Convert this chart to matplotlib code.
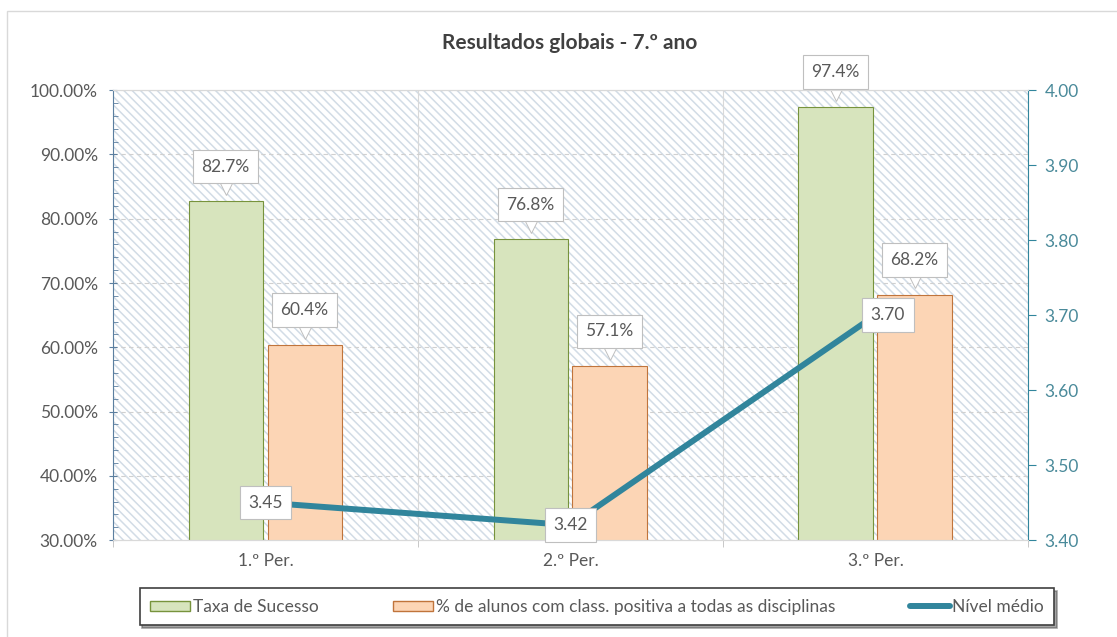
import matplotlib
matplotlib.use("Agg")
import matplotlib.pyplot as plt
from matplotlib.patches import Rectangle, Patch
from matplotlib.lines import Line2D
from matplotlib.ticker import FuncFormatter, MultipleLocator, FixedLocator

plt.rcParams['font.family'] = ['Lato', 'DejaVu Sans']
plt.rcParams['hatch.linewidth'] = 1.1

periodos = ["1.º Per.", "2.º Per.", "3.º Per."]
taxa_sucesso = [82.7, 76.8, 97.4]
class_positiva = [60.4, 57.1, 68.2]
nivel_medio = [3.45, 3.42, 3.70]

cinza = "#595959"
teal = "#31859C"
fs = 12.5

fig = plt.figure(figsize=(11.17, 6.37), dpi=100)
fig.patches.append(Rectangle((0.006, -0.01), 1.0, 0.993, transform=fig.transFigure,
                             fill=False, edgecolor="#D9D9D9", linewidth=1))

ax = fig.add_axes([0.1012, 0.152, 0.8191, 0.7065])
ax2 = ax.twinx()

# fundo tracejado
ax.patch.set_facecolor("white")
ax.add_patch(Rectangle((0, 0), 1, 1, transform=ax.transAxes, facecolor="none",
                       edgecolor="#D2DCE6", hatch="\\\\\\\\", linewidth=0, zorder=0))

x = range(len(periodos))
w = 0.243
dx_g, dx_o = -0.131, 0.128
ax.bar([i + dx_g for i in x], taxa_sucesso, w, color="#D7E4BD", edgecolor="#77933C",
       linewidth=0.8, zorder=2)
ax.bar([i + dx_o for i in x], class_positiva, w, color="#FCD5B5", edgecolor="#C0743B",
       linewidth=0.8, zorder=2)

ax.set_xlim(-0.5, 2.5)
ax.set_ylim(30, 100)
ax.yaxis.set_major_locator(MultipleLocator(10))
ax.yaxis.set_minor_locator(MultipleLocator(2))
ax.yaxis.set_major_formatter(FuncFormatter(lambda v, p: f"{v:.2f}%"))
ax.set_xticks(list(x))
ax.set_xticklabels(periodos)
ax.xaxis.set_minor_locator(FixedLocator([-0.5, 0.5, 1.5, 2.5]))
ax.tick_params(axis="x", which="major", length=0, pad=9, labelsize=fs, labelcolor=cinza)
ax.tick_params(axis="x", which="minor", length=5, color="#BFBFBF")
ax.tick_params(axis="y", which="major", length=6, direction="inout", color="#5B7FA0",
               labelsize=fs, labelcolor=cinza, pad=8)
ax.tick_params(axis="y", which="minor", length=3.5, direction="in", color="#5B7FA0")

ax.grid(axis="y", which="major", linestyle=(0, (4, 3)), color="#D0D0D0", linewidth=0.8, zorder=1)
ax.grid(axis="x", which="minor", linestyle="-", color="#D9D9D9", linewidth=0.8, zorder=1)
ax.set_axisbelow(True)

for s in ["top", "bottom"]:
    ax.spines[s].set_color("#D9D9D9")
    ax2.spines[s].set_color("#D9D9D9")
ax.spines["left"].set_color("#5B7FA0")
ax2.spines["left"].set_visible(False)
ax.spines["right"].set_visible(False)
ax2.spines["right"].set_color(teal)

ax2.plot(list(x), nivel_medio, color=teal, linewidth=4.3, solid_capstyle="butt", zorder=3)
ax2.set_ylim(3.40, 4.00)
ax2.yaxis.set_major_locator(MultipleLocator(0.1))
ax2.yaxis.set_major_formatter(FuncFormatter(lambda v, p: f"{v:.2f}"))
ax2.tick_params(axis="y", length=6, color=teal, labelsize=fs, labelcolor="#4A8A9A", pad=6)

caixa = dict(boxstyle="square,pad=0.5", facecolor="white", edgecolor="#BFBFBF", linewidth=0.8)
seta = matplotlib.transforms.ScaledTranslation(0, 9.5 / 72, fig.dpi_scale_trans)


def rotulo_barra(xp, v):
    ax.annotate(f"{v:.1f}%", (xp, v), xytext=(0, 25), textcoords="offset points",
                ha="center", va="center", fontsize=fs, color=cinza, bbox=caixa, zorder=6)
    ax.plot([xp], [v], marker="v", markersize=10, markerfacecolor="white",
            markeredgecolor="#BFBFBF", markeredgewidth=0.7, linestyle="none", zorder=5,
            transform=ax.transData + seta)


for i in x:
    rotulo_barra(i + dx_g, taxa_sucesso[i])
    rotulo_barra(i + dx_o, class_positiva[i])

for i in x:
    desloc = (9, 0) if i == 2 else (0, 0)
    ax2.annotate(f"{nivel_medio[i]:.2f}", (i, nivel_medio[i]), xytext=desloc,
                 textcoords="offset points", ha="center", va="center",
                 fontsize=fs, color=cinza, bbox=caixa, zorder=5)

fig.text(0.51, 0.932, "Resultados globais - 7.º ano", ha="center", va="center",
         fontsize=15, fontweight="bold", color="#404040")

handles = [Patch(facecolor="#D7E4BD", edgecolor="#77933C"),
           Patch(facecolor="#FCD5B5", edgecolor="#C0743B"),
           Line2D([], [], color=teal, linewidth=4.3, solid_capstyle="round")]
labels = ["Taxa de Sucesso", "% de alunos com class. positiva a todas as disciplinas", "Nível médio"]
leg = fig.legend(handles, labels, loc="center", ncol=3, mode="expand",
                 bbox_to_anchor=(0.125, 0.013, 0.819, 0.069),
                 frameon=True, fancybox=False, shadow=True, fontsize=fs, handlelength=2.3,
                 handleheight=0.5, handletextpad=0.15, borderpad=0.6, borderaxespad=0,
                 edgecolor="#404040")
leg.get_frame().set_linewidth(1.2)
for t in leg.get_texts():
    t.set_color(cinza)

fig.savefig("out.png", dpi=100)
